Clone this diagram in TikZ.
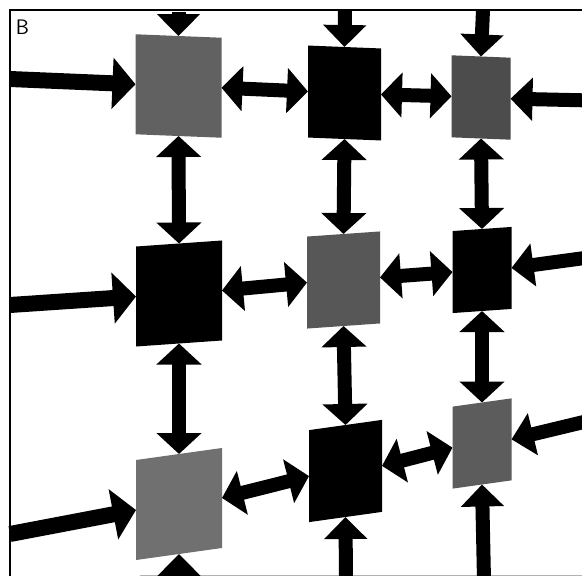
\documentclass[tikz,border=0pt]{standalone}
\usepackage{tikz}
\usetikzlibrary{arrows.meta}
\tikzset{
  blk/.style={rectangle, fill=black, inner sep=0pt, outer sep=0pt},
  gry/.style={rectangle, fill=black!62, inner sep=0pt, outer sep=0pt},
  colA/.style={minimum width=86pt, minimum height=100pt},
  colB/.style={minimum width=73pt, minimum height=92pt},
  colC/.style={minimum width=59pt, minimum height=82pt},
  rowA/.style={yslant=-0.04},
  rowB/.style={yslant=0.07},
  rowC/.style={yslant=0.14},
  flow/.style={draw, line width=14pt, -{Triangle[length=22pt,width=42pt]}},
  wide/.style={line width=16pt, -{Triangle[length=23pt,width=50pt]}},
  twoway/.style={{Triangle[length=21pt,width=44pt]}-{Triangle[length=21pt,width=44pt]}},
  edgeline/.style={draw, line width=2pt},
}

\begin{document}
\begin{tikzpicture}[x=1pt,y=-1pt]
    \clip (0,0) rectangle (582,576);
    \fill[white] (0,0) rectangle (582,576);

    \path[edgeline] (10,576) -- (10,10) -- (582,10);
    \path[draw=black!30, line width=1pt] (140,575) -- (582,575);
    \node[font=\fontsize{21}{21}\selectfont\sffamily, inner sep=0pt] (tag) at (22.5,27.5) {B};

    \node[gry, colA, rowA] (r1c1) at (178.5,86) {};
    \node[blk, colB, rowA] (r1c2) at (344.5,93) {};
    \node[gry, colC, rowA, fill=black!70] (r1c3) at (481,97.5) {};

    \node[blk, colA, rowB] (r2c1) at (179,293.5) {};
    \node[gry, colB, rowB, fill=black!66] (r2c2) at (343.5,280) {};
    \node[blk, colC, rowB] (r2c3) at (482,270) {};

    \node[gry, colA, rowC, fill=black!56] (r3c1) at (179,504) {};
    \node[blk, colB, rowC] (r3c2) at (345.5,471) {};
    \node[gry, colC, rowC, fill=black!64] (r3c3) at (482,443.5) {};

    \coordinate (inA) at (10,79);
    \coordinate (inB) at (10,305);
    \coordinate (inC) at (10,534);
    \coordinate (outA) at (592,100.5);
    \coordinate (outB) at (592,257);
    \coordinate (outC) at (592,420);
    \coordinate (topA) at (178.5,12);
    \coordinate (topB) at (345,10);
    \coordinate (topC) at (483,10);
    \coordinate (botA) at (179,578);
    \coordinate (botB) at (346,580);
    \coordinate (botC) at (484,580);

    \begin{scope} [every path/.style=flow]
      \path[wide] (inA) -- (r1c1.west);
      \path[wide] (inB) -- (r2c1.west);
      \path[wide] (inC) -- (r3c1.west);
      \path (outA) -- (r1c3.east);
      \path (outB) -- (r2c3.east);
      \path (outC) -- (r3c3.east);
      \path (topA) -- (r1c1.north);
      \path (topB) -- (r1c2.north);
      \path (topC) -- (r1c3.north);
      \path (botA) -- (r3c1.south);
      \path (botB) -- (r3c2.south);
      \path (botC) -- (r3c3.south);

      \path[twoway] (r1c1.east) -- (r1c2.west);
      \path[twoway] (r1c2.east) -- (r1c3.west);
      \path[twoway] (r2c1.east) -- (r2c2.west);
      \path[twoway] (r2c2.east) -- (r2c3.west);
      \path[twoway] (r3c1.east) -- (r3c2.west);
      \path[twoway] (r3c2.east) -- (r3c3.west);

      \path[twoway] (r1c1.south) -- (r2c1.north);
      \path[twoway] (r2c1.south) -- (r3c1.north);
      \path[twoway] (r1c2.south) -- (r2c2.north);
      \path[twoway] (r2c2.south) -- (r3c2.north);
      \path[twoway] (r1c3.south) -- (r2c3.north);
      \path[twoway] (r2c3.south) -- (r3c3.north);
    \end{scope}

\end{tikzpicture}
\end{document}
